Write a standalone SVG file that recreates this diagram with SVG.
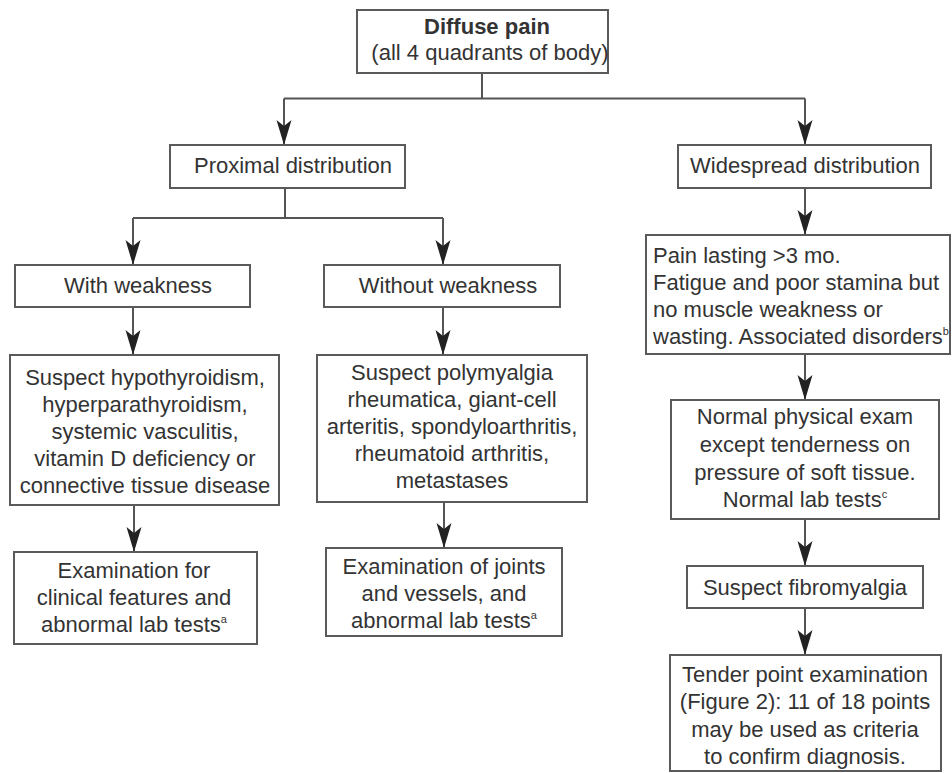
<svg xmlns="http://www.w3.org/2000/svg" width="952" height="773" viewBox="0 0 952 773">
<style>
.box{fill:#fff;stroke:#5a5a5a;stroke-width:2}
.ln{fill:none;stroke:#555;stroke-width:2}
text{font-family:"Liberation Sans",Arial,sans-serif;font-size:22px;fill:#333}
.c{text-anchor:middle}
.b{font-weight:bold}
.sup{font-size:11px}
</style>
<defs>
<marker id="ah" viewBox="-26 -8 28 16" refX="0" refY="0" markerWidth="28" markerHeight="16" markerUnits="userSpaceOnUse" orient="auto">
<path d="M0,0 L-25,-7.5 L-19,0 L-25,7.5 Z" fill="#222"/>
</marker>
</defs>
<rect width="952" height="773" fill="#fff"/>
<g id="connectors">
<path class="ln" d="M482,73 V98.5"/>
<path class="ln" d="M284,98.5 H805"/>
<path class="ln" d="M284,98.5 V145" marker-end="url(#ah)"/>
<path class="ln" d="M805,98.5 V145" marker-end="url(#ah)"/>
<path class="ln" d="M285,188 V218 M133,218 H443"/>
<path class="ln" d="M133,218 V265" marker-end="url(#ah)"/>
<path class="ln" d="M443,218 V265" marker-end="url(#ah)"/>
<path class="ln" d="M133,307 V355" marker-end="url(#ah)"/>
<path class="ln" d="M443,307 V355" marker-end="url(#ah)"/>
<path class="ln" d="M134,505 V552" marker-end="url(#ah)"/>
<path class="ln" d="M444,502 V548" marker-end="url(#ah)"/>
<path class="ln" d="M805,188 V235" marker-end="url(#ah)"/>
<path class="ln" d="M805,354 V400" marker-end="url(#ah)"/>
<path class="ln" d="M805,519 V566" marker-end="url(#ah)"/>
<path class="ln" d="M805,608 V655" marker-end="url(#ah)"/>
</g>
<g id="n-diffuse">
<rect class="box" x="357" y="10" width="251" height="63"/>
<text class="c b" x="487" y="34">Diffuse pain</text>
<text class="c" x="490" y="60">(all 4 quadrants of body)</text>
</g>
<g id="n-proximal">
<rect class="box" x="170" y="145" width="235" height="43"/>
<text class="c" x="293" y="173">Proximal distribution</text>
</g>
<g id="n-widespread">
<rect class="box" x="678" y="145" width="253" height="43"/>
<text class="c" x="805" y="173">Widespread distribution</text>
</g>
<g id="n-with">
<rect class="box" x="15" y="265" width="235" height="42"/>
<text class="c" x="138" y="293">With weakness</text>
</g>
<g id="n-without">
<rect class="box" x="324" y="265" width="236" height="42"/>
<text class="c" x="448" y="293">Without weakness</text>
</g>
<g id="n-hypo">
<rect class="box" x="10" y="355" width="269" height="150"/>
<text class="c" x="145" y="385">Suspect hypothyroidism,</text>
<text class="c" x="145" y="412">hyperparathyroidism,</text>
<text class="c" x="145" y="439">systemic vasculitis,</text>
<text class="c" x="145" y="466">vitamin D deficiency or</text>
<text class="c" x="145" y="493">connective tissue disease</text>
</g>
<g id="n-poly">
<rect class="box" x="317" y="355" width="270" height="147"/>
<text class="c" x="452" y="380">Suspect polymyalgia</text>
<text class="c" x="452" y="407">rheumatica, giant-cell</text>
<text class="c" x="452" y="434">arteritis, spondyloarthritis,</text>
<text class="c" x="452" y="461">rheumatoid arthritis,</text>
<text class="c" x="452" y="488">metastases</text>
</g>
<g id="n-examfor">
<rect class="box" x="14" y="552" width="243" height="92"/>
<text class="c" x="134" y="578">Examination for</text>
<text class="c" x="134" y="605">clinical features and</text>
<text class="c" x="134" y="632">abnormal lab tests<tspan class="sup" dy="-9">a</tspan></text>
</g>
<g id="n-examjoints">
<rect class="box" x="326" y="548" width="236" height="88"/>
<text class="c" x="444" y="574">Examination of joints</text>
<text class="c" x="444" y="601">and vessels, and</text>
<text class="c" x="444" y="628">abnormal lab tests<tspan class="sup" dy="-9">a</tspan></text>
</g>
<g id="n-pain">
<rect class="box" x="646" y="235" width="304" height="119"/>
<text x="653" y="263">Pain lasting &gt;3 mo.</text>
<text x="653" y="290">Fatigue and poor stamina but</text>
<text x="653" y="317">no muscle weakness or</text>
<text x="653" y="344">wasting. Associated disorders<tspan class="sup" dy="-9">b</tspan></text>
</g>
<g id="n-normal">
<rect class="box" x="671" y="400" width="268" height="119"/>
<text class="c" x="805" y="424">Normal physical exam</text>
<text class="c" x="805" y="452">except tenderness on</text>
<text class="c" x="805" y="480">pressure of soft tissue.</text>
<text class="c" x="805" y="507">Normal lab tests<tspan class="sup" dy="-9">c</tspan></text>
</g>
<g id="n-fibro">
<rect class="box" x="687" y="566" width="236" height="42"/>
<text class="c" x="805" y="595">Suspect fibromyalgia</text>
</g>
<g id="n-tender">
<rect class="box" x="670" y="655" width="271" height="116"/>
<text class="c" x="805" y="682">Tender point examination</text>
<text class="c" x="805" y="709">(Figure 2): 11 of 18 points</text>
<text class="c" x="805" y="737">may be used as criteria</text>
<text class="c" x="805" y="764">to confirm diagnosis.</text>
</g>
</svg>
